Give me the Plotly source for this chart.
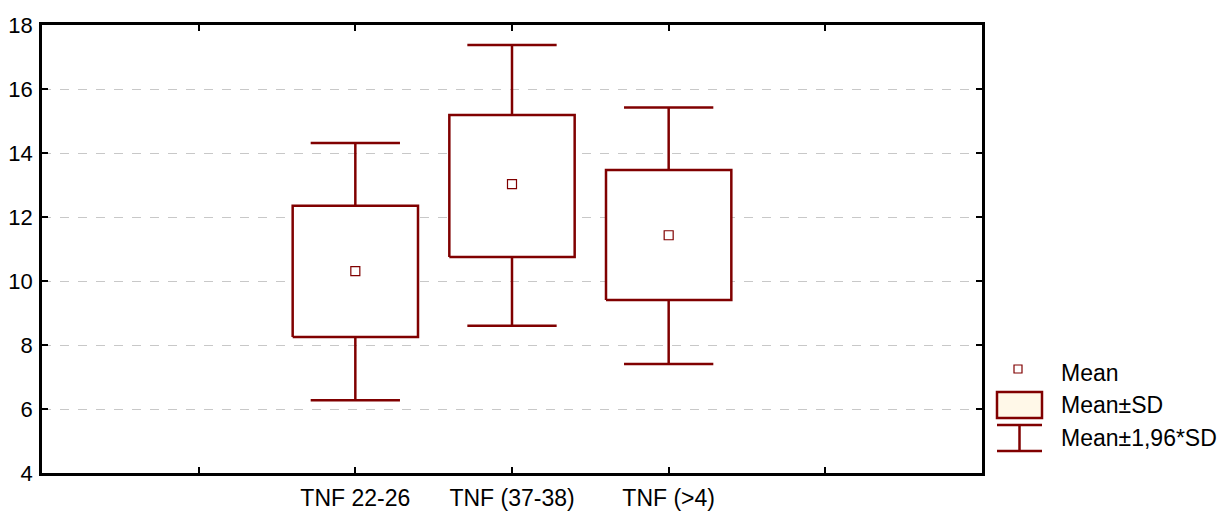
import plotly.graph_objects as go

# ---- data ----
categories = ["TNF 22-26", "TNF (37-38)", "TNF (>4)"]
cat_pos = [2, 3, 4]
means = [10.31, 13.03, 11.43]
sd_low = [8.25, 10.75, 9.41]
sd_high = [12.35, 15.19, 13.47]
ci_low = [6.27, 8.60, 7.41]
ci_high = [14.31, 17.375, 15.42]
tick_vals = [1, 2, 3, 4, 5]
tick_text = ["", "TNF 22-26", "TNF (37-38)", "TNF (>4)", ""]
y_ticks = [4, 6, 8, 10, 12, 14, 16, 18]
legend_labels = ["Mean", "Mean±SD", "Mean±1,96*SD"]

RED = "#800000"
FONT = "Arial, Liberation Sans, sans-serif"
BOX_HALF = 0.4     # half box width, category units
CAP_HALF = 0.285   # half whisker-cap width, category units

W, H = 1225, 512
L, R, T, B = 42, 243, 25, 39
PW, PH = W - L - R, H - T - B


def px(x):
    return (x - L) / PW


def py(y):
    return (H - B - y) / PH


fig = go.Figure()

# whiskers (drawn first so boxes cover the stem inside)
wx, wy = [], []
for c, lo, hi, q1, q3 in zip(cat_pos, ci_low, ci_high, sd_low, sd_high):
    wx += [c, c, None, c, c, None,
           c - CAP_HALF, c + CAP_HALF, None, c - CAP_HALF, c + CAP_HALF, None]
    wy += [hi, q3, None, q1, lo, None, hi, hi, None, lo, lo, None]
fig.add_trace(go.Scatter(x=wx, y=wy, mode="lines",
                         line=dict(color=RED, width=2.5),
                         showlegend=False, hoverinfo="skip"))

# boxes (mean ± SD)
for c, q1, q3 in zip(cat_pos, sd_low, sd_high):
    fig.add_trace(go.Scatter(
        x=[c - BOX_HALF, c + BOX_HALF, c + BOX_HALF, c - BOX_HALF, c - BOX_HALF],
        y=[q1, q1, q3, q3, q1],
        mode="lines", fill="toself", fillcolor="white",
        line=dict(color=RED, width=2.5),
        showlegend=False, hoverinfo="skip"))

# means
fig.add_trace(go.Scatter(
    x=cat_pos, y=means, mode="markers",
    marker=dict(symbol="square-open", size=9, color=RED, line=dict(width=1.2)),
    showlegend=False,
))

# ---- custom legend ----
shapes = []
shapes.append(dict(type="rect", xref="paper", yref="paper",
                   x0=px(1014), x1=px(1022), y0=py(373), y1=py(365),
                   line=dict(color=RED, width=1.2), fillcolor="white"))
shapes.append(dict(type="rect", xref="paper", yref="paper",
                   x0=px(997), x1=px(1042), y0=py(418), y1=py(392),
                   line=dict(color=RED, width=2.5), fillcolor="#FFF8E8"))
shapes.append(dict(type="line", xref="paper", yref="paper",
                   x0=px(997), x1=px(1042), y0=py(425), y1=py(425),
                   line=dict(color=RED, width=2.5)))
shapes.append(dict(type="line", xref="paper", yref="paper",
                   x0=px(997), x1=px(1042), y0=py(451), y1=py(451),
                   line=dict(color=RED, width=2.5)))
shapes.append(dict(type="line", xref="paper", yref="paper",
                   x0=px(1019.5), x1=px(1019.5), y0=py(425), y1=py(451),
                   line=dict(color=RED, width=2.5)))

annotations = []
for lab, yy in zip(legend_labels, [373, 405, 438]):
    annotations.append(dict(xref="paper", yref="paper", x=px(1059), y=py(yy),
                            text=lab, showarrow=False, xanchor="left", yanchor="middle",
                            font=dict(family=FONT, size=23, color="black")))

fig.update_layout(
    width=W, height=H,
    margin=dict(l=L, r=R, t=T, b=B, pad=0, autoexpand=False),
    paper_bgcolor="white", plot_bgcolor="white",
    shapes=shapes, annotations=annotations,
    font=dict(family=FONT, size=23, color="black"),
    xaxis=dict(range=[0, 6], tickvals=tick_vals, ticktext=tick_text,
               automargin=False,
               showgrid=False, zeroline=False,
               showline=True, linecolor="black", linewidth=2.5, mirror="ticks",
               ticks="inside", ticklen=6, tickwidth=2, tickcolor="black",
               ticklabelstandoff=3, tickfont=dict(size=23)),
    yaxis=dict(range=[4, 18], tickvals=y_ticks, automargin=False,
               showgrid=True, gridcolor="#c8c8c8", griddash="dash", gridwidth=1,
               zeroline=False,
               showline=True, linecolor="black", linewidth=2.5, mirror="ticks",
               ticks="inside", ticklen=6, tickwidth=2, tickcolor="black",
               ticklabelstandoff=2, tickfont=dict(size=22)),
)

fig.write_html("out.html")
